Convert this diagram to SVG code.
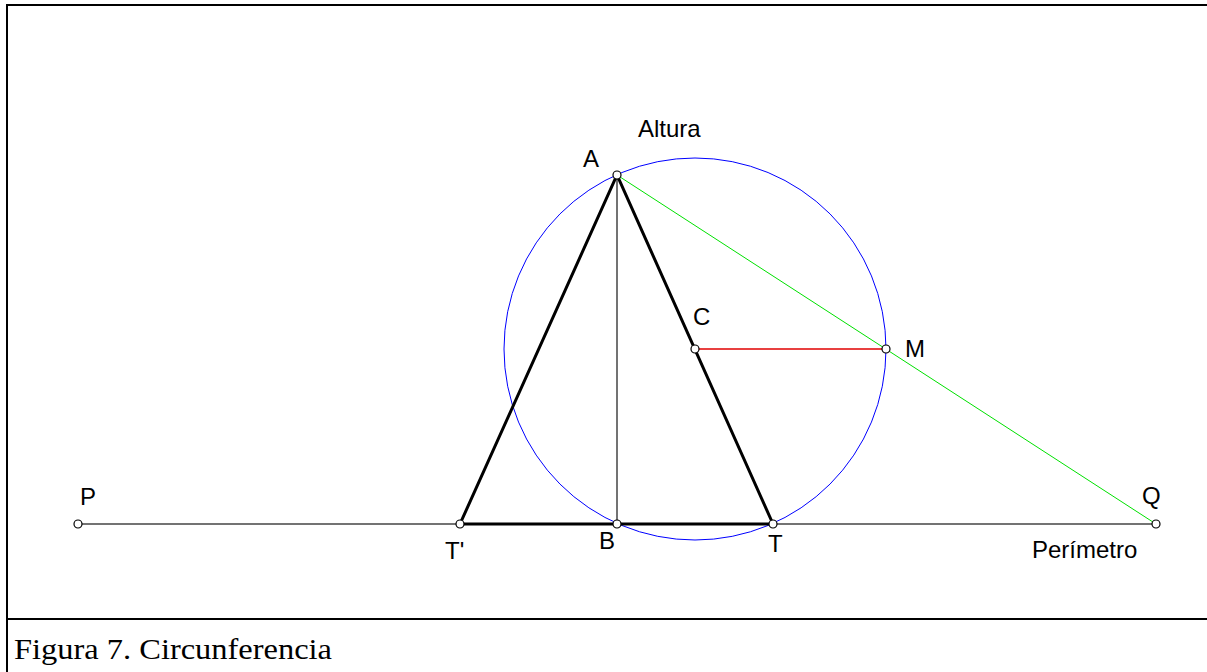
<svg xmlns="http://www.w3.org/2000/svg" width="1207" height="672" viewBox="0 0 1207 672">
<style>
.lbl{font-family:"Liberation Sans",Arial,sans-serif;font-size:24px;fill:#000}
.cap{font-family:"Liberation Serif","Times New Roman",serif;font-size:29px;fill:#000}
.pt{fill:#fff;stroke:#000;stroke-width:1.2}
.thick{stroke:#000;stroke-width:3;fill:none;stroke-linecap:round}
.thin{stroke:#444;stroke-width:1.5;fill:none}
</style>
<rect width="1207" height="672" fill="#fff"/>
<g id="frame" fill="none" stroke="#000" stroke-width="2">
<line x1="7" y1="5" x2="1207" y2="5"/>
<line x1="7" y1="4" x2="7" y2="672"/>
<line x1="7" y1="619" x2="1207" y2="619"/>
</g>
<g id="connectors">
<line class="thin" x1="78" y1="524" x2="1156" y2="524"/>
<line class="thin" x1="617" y1="175" x2="617" y2="524"/>
<circle cx="695" cy="349" r="191" fill="none" stroke="#0000ff" stroke-width="1"/>
<line x1="617" y1="175" x2="1156" y2="524" stroke="#00e000" stroke-width="1"/>
<line x1="695" y1="349" x2="886" y2="349" stroke="#e00000" stroke-width="1.5"/>
<polyline class="thick" points="773,524 617,175 460,524 773,524"/>
</g>
<g id="node-P"><circle class="pt" cx="78" cy="524" r="4"/><text class="lbl" x="80" y="505">P</text></g>
<g id="node-Q"><circle class="pt" cx="1156" cy="524" r="4"/><text class="lbl" x="1142" y="504">Q</text><text class="lbl" x="1032" y="558">Perímetro</text></g>
<g id="node-A"><circle class="pt" cx="617" cy="175" r="4"/><text class="lbl" x="583" y="167">A</text><text class="lbl" x="638" y="137">Altura</text></g>
<g id="node-B"><circle class="pt" cx="617" cy="524" r="4"/><text class="lbl" x="599" y="549">B</text></g>
<g id="node-T1"><circle class="pt" cx="460" cy="524" r="4"/><text class="lbl" x="445" y="559">T'</text></g>
<g id="node-T"><circle class="pt" cx="773" cy="524" r="4"/><text class="lbl" x="768" y="552">T</text></g>
<g id="node-C"><circle class="pt" cx="695" cy="349" r="4"/><text class="lbl" x="693" y="325">C</text></g>
<g id="node-M"><circle class="pt" cx="886" cy="349" r="4"/><text class="lbl" x="905" y="357">M</text></g>
<text class="cap" x="14" y="659" textLength="318" lengthAdjust="spacingAndGlyphs">Figura 7. Circunferencia</text>
</svg>
